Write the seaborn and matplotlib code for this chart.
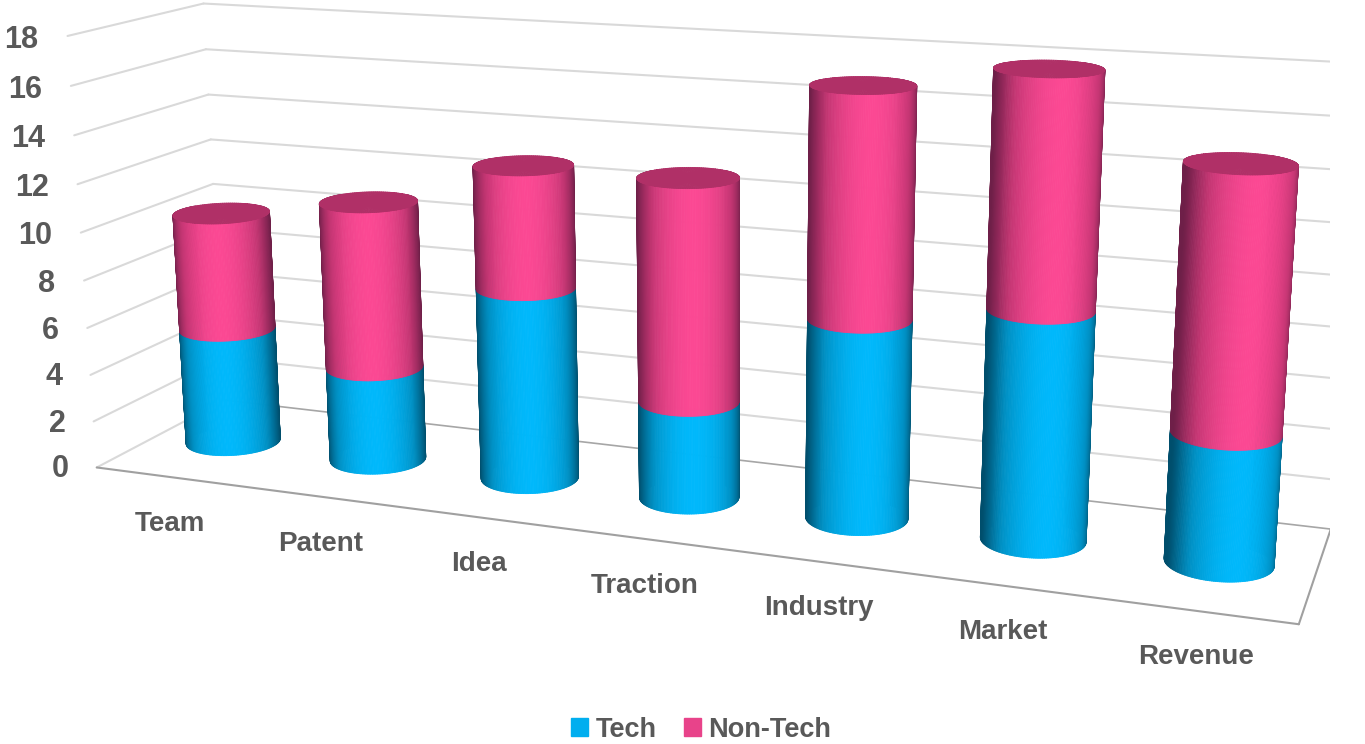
import numpy as np
import matplotlib
matplotlib.use("Agg")
import matplotlib.pyplot as plt
import seaborn as sns
from matplotlib.patches import Patch
from mpl_toolkits.mplot3d import proj3d

# chart data
categories = ["Team", "Patent", "Idea", "Traction", "Industry", "Market", "Revenue"]
tech = [5, 4, 8, 4, 8, 9, 5]
non_tech = [5, 7, 5, 9, 9, 9, 10]
z_ticks = [0, 2, 4, 6, 8, 10, 12, 14, 16, 18]

sns.set_theme(style="white")
plt.rcParams["font.family"] = ["Liberation Sans", "DejaVu Sans"]

TEXT = "#595959"
GRID = "#D9D9D9"
RADIUS = 0.285
BOX = (1, 0.2061, 0.3694)
RADIUS_Y = RADIUS * (BOX[0] / 7) / BOX[1]

# shading ramps, dark side of the cylinder to the lit side
tech_ramp = np.array(sns.blend_palette(["#004E6C", "#0090C4", "#00B8FB"], n_colors=256))
non_tech_ramp = np.array(sns.blend_palette(["#6E1F48", "#C43673", "#FB4893"], n_colors=256))
cap_color = "#B03067"

# camera was fitted to the gridline corners of the reference
fig = plt.figure(figsize=(13.65, 7.44), dpi=100)
size = 1318.47
ax = fig.add_axes(
    [11.41 / 1365, (744 - 955.41) / 744, size / 1365, size / 744],
    projection="3d",
    computed_zorder=False,
)
ax.view_init(14.2794, -69.2864, 0.2026)
ax.set_proj_type("persp", focal_length=0.3362)
ax.set_box_aspect(BOX)
ax.set_axis_off()
ax.patch.set_alpha(0)

# walls and floor
for z in z_ticks:
    if z > 0:
        ax.plot([0, 0], [0, 1], [z, z], color=GRID, lw=1.5, zorder=1)
        ax.plot([0, 7], [1, 1], [z, z], color=GRID, lw=1.5, zorder=1)
ax.plot([0, 0], [0, 1], [0, 0], color=GRID, lw=1.5, zorder=1)
ax.plot([0, 7], [1, 1], [0, 0], color="#A6A6A6", lw=1.2, zorder=1)
ax.plot([7, 7], [0, 1], [0, 0], color="#A0A0A0", lw=1.5, zorder=1)
ax.plot([0, 7], [0, 0], [0, 0], color="#A0A0A0", lw=1.5, zorder=1)

theta = np.radians(np.linspace(-205, 65, 136))
light = np.radians(-65)
lit = np.clip(np.cos(theta - light), 0, 1) ** 1.6


def wall(center, bottom, top, ramp, zorder):
    x = center + RADIUS * np.cos(theta)
    y = 0.5 + RADIUS_Y * np.sin(theta)
    xx = np.vstack([x, x])
    yy = np.vstack([y, y])
    zz = np.vstack([np.full_like(x, bottom), np.full_like(x, top)])
    colors = ramp[(lit * 255).astype(int)]
    colors = np.stack([colors, colors])
    surf = ax.plot_surface(xx, yy, zz, facecolors=colors, rstride=1, cstride=1,
                           shade=False, linewidth=0.6, antialiased=True, zorder=zorder)
    surf.set_snap(False)


def cap(center, top, zorder):
    t = np.radians(np.linspace(0, 360, 145))
    rr = np.array([0.0, 1.0])[:, None]
    xx = center + RADIUS * rr * np.cos(t)
    yy = 0.5 + RADIUS_Y * rr * np.sin(t)
    zz = np.full_like(xx, top)
    colors = np.full(xx.shape + (4,), matplotlib.colors.to_rgba(cap_color))
    surf = ax.plot_surface(xx, yy, zz, facecolors=colors, rstride=1, cstride=1,
                           shade=False, linewidth=0.6, antialiased=True, zorder=zorder)
    surf.set_snap(False)


for i in range(len(categories)):
    center = i + 0.5
    base = 10 + i * 5
    wall(center, 0, tech[i], tech_ramp, base)
    wall(center, tech[i], tech[i] + non_tech[i], non_tech_ramp, base + 1)
    cap(center, tech[i] + non_tech[i], base + 2)

ax.set_xlim(0, 7)
ax.set_ylim(0, 1)
ax.set_zlim(0, 18)

# labels sit on the projected floor and wall positions
M = ax.get_proj()
for z in z_ticks:
    px, py, _ = proj3d.proj_transform(-0.2, 0, z - 0.25, M)
    ax.text2D(px, py, str(z), transform=ax.transData, ha="right", va="center",
              fontsize=22, fontweight="bold", color=TEXT)
for i, name in enumerate(categories):
    px, py, _ = proj3d.proj_transform(i + 0.5 + 0.448 - 0.06 * i, -0.4825 + 0.0126 * i, 0, M)
    ax.text2D(px, py, name, transform=ax.transData, ha="center", va="center",
              fontsize=20, fontweight="bold", color=TEXT)

handles = [Patch(color="#00AEEF", label="Tech"), Patch(color="#E8438A", label="Non-Tech")]
fig.legend(handles=handles, loc="lower center", bbox_to_anchor=(0.5135, -0.031), ncols=2, frameon=False,
           labelcolor=TEXT, handlelength=0.63, handleheight=0.63,
           handletextpad=0.26, columnspacing=1.0,
           prop={"size": 19.5, "weight": "bold"})

fig.savefig("out.png", dpi=100)
